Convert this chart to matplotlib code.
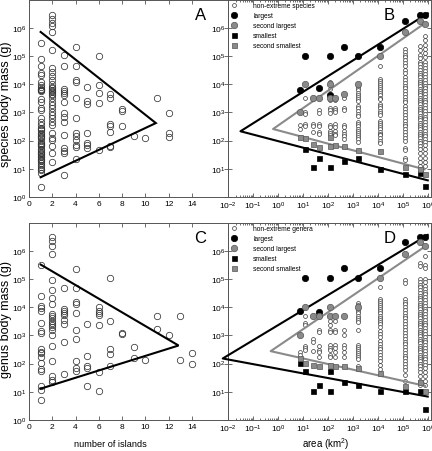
import numpy as np
import matplotlib
matplotlib.use('Agg')
import matplotlib.pyplot as plt
from matplotlib.ticker import LogLocator, NullLocator, FixedLocator, LogFormatterSciNotation, FuncFormatter

plt.rcParams['font.family'] = ['Liberation Sans', 'DejaVu Sans']
plt.rcParams['mathtext.fontset'] = 'custom'
plt.rcParams['mathtext.rm'] = 'Liberation Sans'
plt.rcParams['mathtext.it'] = 'Liberation Sans:italic'
plt.rcParams['mathtext.default'] = 'regular'

# ---------------- Panel A: species, log10 body mass by number of islands
A1 = [5.47, 4.90, 4.66, 4.38, 4.31, 4.09, 3.97, 3.90, 3.84, 3.81, 3.78, 3.74, 3.48, 3.38, 3.14, 3.10,
      2.79, 2.67, 2.55, 2.46, 2.40, 2.36, 2.27, 2.22, 2.17, 2.12, 2.08, 1.98, 1.93, 1.89, 1.84, 1.79,
      1.70, 1.65, 1.60, 1.55, 1.51, 1.46, 1.41, 1.36, 1.32, 1.26, 1.20, 1.14, 1.08, 1.01, 0.94, 0.84, 0.34]
A2 = [6.45, 6.32, 6.18, 6.05, 5.85, 5.21, 4.57, 4.42, 4.28, 4.14, 4.02, 3.90, 3.85, 3.81, 3.76, 3.71,
      3.66, 3.62, 3.50, 3.38, 3.26, 3.14, 3.02, 2.91, 2.79, 2.65, 2.55, 2.27, 2.10, 2.03, 1.79, 1.55, 1.25]
A3 = [5.05, 4.66, 3.83, 3.76, 3.69, 3.62, 3.38, 2.98, 2.84, 2.67, 2.19, 1.72, 1.63, 1.55, 0.77]
A4 = [5.33, 4.66, 4.14, 4.09, 3.50, 2.81, 2.27, 2.15, 2.03, 1.84, 1.77, 1.36]
A5 = [3.90, 3.40, 3.31, 2.27, 1.93, 1.84, 1.72]
A6 = [4.99, 3.97, 3.69, 3.33, 1.67]
A7 = [3.64, 3.50, 2.60, 2.50, 2.31, 1.81, 1.77]
A8 = [3.12, 3.05, 2.50]
A9 = [2.17]
A10 = [2.08]
A11 = [3.50]
A12 = [2.98, 2.27, 2.12]
A_cols = [A1, A2, A3, A4, A5, A6, A7, A8, A9, A10, A11, A12]
A_islands = [1, 2, 3, 4, 5, 6, 7, 8, 9, 10, 11, 12]
A_line_x = [1, 10.9, 1]
A_line_logy = [5.85, 2.62, 0.70]

# ---------------- Panel C: genera
C1 = [5.50, 4.38, 4.04, 3.97, 3.86, 3.43, 3.14, 3.07, 2.50, 2.41, 2.36, 2.22, 2.03, 1.79, 1.74, 1.22, 1.08, 0.70]
C2 = [6.48, 6.33, 6.18, 5.90, 4.97, 4.59, 4.33, 4.12, 3.76, 3.69, 3.62, 3.52, 3.45, 3.38, 3.31, 3.19,
      3.00, 2.62, 2.08, 1.55, 1.43, 1.34]
C3 = [4.69, 3.93, 3.86, 3.78, 3.71, 3.55, 3.40, 2.78, 1.62]
C4 = [5.36, 4.69, 4.19, 4.12, 3.81, 3.19, 2.86, 2.08, 1.84, 1.74]
C5 = [3.40, 2.27, 1.91, 1.84, 1.20]
C6 = [4.02, 3.88, 3.81, 3.71, 3.36, 1.69, 1.03]
C7 = [5.02, 3.52, 2.52, 2.33, 1.91]
C8 = [3.07, 3.06]
C9 = [2.60, 2.19]
C10 = [2.14]
C11 = [3.67, 3.21]
C12 = [3.02]
C13 = [3.67, 2.14]
C14 = [2.38, 1.98]
C_cols = [C1, C2, C3, C4, C5, C6, C7, C8, C9, C10, C11, C12, C13, C14]
C_islands = [1, 2, 3, 4, 5, 6, 7, 8, 9, 10, 11, 12, 13, 14]
C_line_x = [1, 12.85, 1]
C_line_logy = [5.51, 2.64, 1.11]

# ---------------- island areas (log10 km2)
isl = [0.88, 1.09, 1.40, 1.65, 2.09, 2.30, 2.64, 3.20, 4.07, 5.08, 5.67, 5.88]

# ---------------- Panel B: species by island area
B_ne1 = [2.55, 2.42]
B_ne2 = [3.50, 3.02, 2.95, 2.58, 2.50]
B_ne3 = [2.58, 2.50, 2.29]
B_ne4 = [3.50, 3.07, 2.98, 2.58, 2.50, 2.29, 2.22]
B_ne5 = [4.06, 3.82, 3.59, 3.52, 3.45, 3.16, 3.07, 2.98, 2.55, 2.48, 2.34, 2.27, 2.20]
B_ne6 = [3.52, 3.45, 3.16, 3.07, 3.00, 2.58, 2.48, 2.34, 2.25, 2.18]
B_ne7 = [3.52, 3.16, 3.07, 2.55, 2.48, 2.34, 2.25, 2.15, 2.06]
B_ne8 = [3.99, 3.92, 3.85, 3.78, 3.70, 3.62, 3.55, 3.48, 3.41, 3.24, 3.15, 3.05, 2.95, 2.88, 2.65,
         2.58, 2.50, 2.42, 2.35, 2.28, 2.20, 2.13, 2.06, 1.94]
B_ne9 = [4.65, 4.18, 4.12, 4.05, 3.98, 3.90, 3.82, 3.75, 3.68, 3.60, 3.52, 3.47, 3.30, 3.22, 3.15,
         3.05, 2.98, 2.90, 2.70, 2.62, 2.55, 2.48, 2.40, 2.32, 2.25, 2.18, 2.10, 2.00, 1.92]
B_ne10 = [5.24, 5.15, 5.05, 4.95, 4.85, 4.75, 4.65, 4.50, 4.40, 4.25, 4.15, 4.05, 3.95, 3.85, 3.75,
          3.65, 3.55, 3.45, 3.35, 3.22, 3.12, 3.02, 2.92, 2.80, 2.70, 2.60, 2.50, 2.40, 2.30, 2.20,
          2.10, 2.00, 1.75, 1.65, 1.40, 1.30]
B_ne11 = [5.35, 5.20, 5.05, 4.92, 4.80, 4.70, 4.60, 4.50, 4.40, 4.32, 4.24, 4.16, 4.08, 4.00, 3.92,
          3.84, 3.76, 3.68, 3.60, 3.52, 3.44, 3.36, 3.28, 3.20, 3.12, 3.04, 2.96, 2.88, 2.80, 2.72,
          2.64, 2.56, 2.48, 2.40, 2.32, 2.24, 2.16, 2.08, 2.00, 1.90, 1.80, 1.70, 1.55, 1.40, 1.25, 1.10]
B_ne12 = [5.70, 5.55, 5.40, 5.25, 5.10, 4.95, 4.80, 4.68, 4.56, 4.45, 4.35, 4.25, 4.15, 4.05, 3.95,
          3.85, 3.75, 3.65, 3.55, 3.45, 3.35, 3.25, 3.15, 3.05, 2.95, 2.85, 2.75, 2.65, 2.55, 2.45,
          2.35, 2.25, 2.15, 2.05, 1.95, 1.85, 1.70, 1.55, 1.40, 1.25, 1.10]
B_ne = [B_ne1, B_ne2, B_ne3, B_ne4, B_ne5, B_ne6, B_ne7, B_ne8, B_ne9, B_ne10, B_ne11, B_ne12]

B_large_x = [0.88, 1.09, 1.65, 2.09, 2.09, 2.64, 3.20, 4.07, 5.08, 5.67, 5.88]
B_large_y = [3.80, 4.98, 3.85, 4.98, 3.62, 5.33, 4.98, 5.33, 6.24, 6.44, 6.46]
B_slarge_x = [0.88, 1.09, 1.40, 1.65, 2.09, 2.09, 2.30, 2.64, 3.20, 4.07, 5.08, 5.67, 5.88]
B_slarge_y = [3.00, 4.00, 3.51, 3.51, 4.00, 3.51, 3.51, 3.66, 4.00, 4.98, 5.85, 6.24, 6.12]
B_small_x = [1.09, 1.40, 1.65, 2.09, 2.64, 3.20, 4.07, 5.08, 5.67, 5.88]
B_small_y = [1.69, 1.08, 1.40, 1.08, 1.28, 1.40, 1.01, 0.82, 0.84, 0.38]
B_ssmall_x = [0.88, 1.09, 1.40, 1.65, 2.09, 2.09, 2.30, 2.64, 3.20, 4.07, 5.08, 5.67, 5.88]
B_ssmall_y = [2.12, 2.08, 1.88, 1.76, 2.12, 1.82, 1.85, 1.82, 1.68, 1.62, 1.06, 0.98, 0.82]
B_black_x = [6.0, -1.50, 6.0]
B_black_y = [6.51, 2.33, 0.59]
B_grey_x = [5.87, -0.195, 5.87]
B_grey_y = [6.15, 2.41, 0.98]

# ---------------- Panel D: genera by island area
D_ne1 = [2.40, 2.30]
D_ne2 = [3.69, 3.43, 3.36, 2.63, 2.56, 2.49]
D_ne3 = [3.69, 2.86, 2.75, 2.45]
D_ne4 = [3.69, 3.20, 3.12, 2.63, 2.49, 2.42, 2.25]
D_ne5 = [3.69, 3.52, 3.38, 3.20, 3.12, 2.67, 2.56, 2.49, 2.32, 2.25]
D_ne6 = [3.69, 3.52, 3.20, 3.12, 2.67, 2.56, 2.42, 2.25]
D_ne7 = [3.20, 3.02, 2.67, 2.56, 2.40, 2.25]
D_ne8 = [4.15, 4.08, 4.00, 3.92, 3.85, 3.78, 3.70, 3.62, 3.55, 3.48, 3.20, 2.67, 2.60, 2.52, 2.45,
         2.38, 2.30, 2.22, 2.15, 1.92]
D_ne9 = [4.70, 4.30, 4.22, 4.15, 4.08, 4.00, 3.92, 3.85, 3.78, 3.70, 3.62, 3.55, 3.48, 3.40, 3.30,
         3.15, 3.05, 2.95, 2.80, 2.70, 2.60, 2.50, 2.40, 2.30, 2.20, 2.10, 1.95, 1.80]
D_ne10 = [4.97, 4.85, 4.30, 4.20, 4.10, 4.00, 3.90, 3.80, 3.70, 3.60, 3.50, 3.40, 3.30, 3.18, 3.08,
          2.98, 2.88, 2.78, 2.68, 2.58, 2.48, 2.38, 2.28, 2.18, 2.08, 1.98, 1.88, 1.78, 1.60, 1.40]
D_ne11 = [5.55, 5.45, 5.00, 4.90, 4.80, 4.70, 4.60, 4.50, 4.40, 4.32, 4.24, 4.16, 4.08, 4.00, 3.92,
          3.84, 3.76, 3.68, 3.60, 3.52, 3.44, 3.36, 3.28, 3.20, 3.12, 3.04, 2.96, 2.88, 2.80, 2.72,
          2.64, 2.56, 2.48, 2.40, 2.32, 2.24, 2.16, 2.08, 2.00, 1.90, 1.80, 1.70, 1.55, 1.40, 1.25]
D_ne12 = [5.80, 5.50, 5.40, 5.00, 4.88, 4.76, 4.65, 4.55, 4.45, 4.35, 4.25, 4.15, 4.05, 3.95, 3.85,
          3.75, 3.65, 3.55, 3.45, 3.35, 3.25, 3.15, 3.05, 2.95, 2.85, 2.75, 2.65, 2.55, 2.45, 2.35,
          2.25, 2.15, 2.05, 1.95, 1.85, 1.70, 1.55, 1.40, 1.25]
D_ne = [D_ne1, D_ne2, D_ne3, D_ne4, D_ne5, D_ne6, D_ne7, D_ne8, D_ne9, D_ne10, D_ne11, D_ne12]

D_large_x = [0.88, 1.09, 1.65, 2.09, 2.64, 3.20, 4.07, 5.08, 5.67, 5.88]
D_large_y = [3.88, 5.02, 3.83, 5.02, 5.37, 5.02, 5.37, 6.30, 6.47, 6.50]
D_slarge_x = [0.88, 1.09, 1.40, 1.65, 2.09, 2.09, 2.30, 2.64, 3.20, 4.07, 5.08, 5.67, 5.88]
D_slarge_y = [3.03, 4.02, 3.69, 3.69, 4.02, 3.69, 3.69, 3.69, 4.02, 5.02, 5.88, 6.30, 6.15]
D_small_x = [0.88, 1.09, 1.40, 1.65, 2.09, 2.09, 2.64, 3.20, 4.07, 5.08, 5.67, 5.88]
D_small_y = [2.01, 1.72, 1.04, 1.23, 1.04, 1.72, 1.33, 1.23, 1.04, 1.04, 1.04, 0.40]
D_ssmall_x = [0.88, 1.09, 1.40, 1.65, 2.09, 2.30, 2.64, 3.20, 4.07, 5.08, 5.67, 5.88]
D_ssmall_y = [2.18, 2.01, 1.94, 1.92, 1.94, 1.92, 1.92, 1.85, 1.68, 1.21, 1.33, 1.04]
D_black_x = [6.0, -2.21, 6.0]
D_black_y = [6.56, 2.18, 0.83]
D_grey_x = [5.89, -0.29, 5.89]
D_grey_y = [6.15, 2.44, 1.21]

# ---------------- figure
W, H = 432, 452
fig = plt.figure(figsize=(W / 100, H / 100), dpi=100)
axA = fig.add_axes([29 / W, 1 - 198 / H, 199 / W, 197.5 / H])
axB = fig.add_axes([228 / W, 1 - 198 / H, 203 / W, 197.5 / H])
axC = fig.add_axes([29 / W, 1 - 421 / H, 199 / W, 197.5 / H])
axD = fig.add_axes([228 / W, 1 - 421 / H, 203 / W, 197.5 / H])

spine_col = '#555555'
grey = '#8a8a8a'
sci = LogFormatterSciNotation()


def no_unit_label(v, pos):
    # the right-hand panels leave the 10^0 label out
    if abs(v - 1.0) < 1e-9:
        return ''
    return sci(v, pos)


def style(ax, logx):
    ax.set_yscale('log')
    ax.set_ylim(1, 1e7)
    ax.yaxis.set_major_locator(FixedLocator([10.0 ** k for k in range(0, 7)]))
    ax.yaxis.set_minor_locator(NullLocator())
    if logx:
        ax.yaxis.set_major_formatter(FuncFormatter(no_unit_label))
        ax.set_xscale('log')
        ax.set_xlim(1e-2, 10 ** 6.13)
        ax.xaxis.set_major_locator(FixedLocator([10.0 ** k for k in range(-2, 7)]))
        ax.xaxis.set_minor_locator(LogLocator(base=10, subs=np.arange(2, 10), numticks=20))
        ax.xaxis.set_major_formatter(LogFormatterSciNotation())
    else:
        ax.yaxis.set_major_formatter(LogFormatterSciNotation())
        ax.set_xlim(0, 17.1)
        ax.set_xticks([0, 2, 4, 6, 8, 10, 12, 14])
    ax.tick_params(which='both', direction='in', top=True, right=True,
                   labelsize=6, pad=2, width=0.6, color=spine_col)
    ax.tick_params(which='major', length=3)
    ax.tick_params(which='minor', length=1.5)
    for s in ax.spines.values():
        s.set_linewidth(0.7)
        s.set_color(spine_col)
    ax.set_facecolor('none')


def island_panel(ax, islands, cols, lx, ly):
    for xv, col in zip(islands, cols):
        ax.plot([xv] * len(col), 10.0 ** np.array(col), 'o', ms=4.6, mfc='none',
                mec='#333333', mew=0.55, zorder=3)
    ax.plot(lx, 10.0 ** np.array(ly), '-', color='black', lw=1.5, zorder=4,
            solid_joinstyle='miter')


def area_panel(ax, ne, lx, ly, slx, sly, smx, smy, ssx, ssy, bx, by, gx, gy, nelabel):
    first = True
    for xv, col in zip(isl, ne):
        ax.plot([10.0 ** xv] * len(col), 10.0 ** np.array(col), 'o', ms=2.8, mfc='white',
                mec='#222222', mew=0.45, zorder=3, label=nelabel if first else None)
        first = False
    ax.plot(10.0 ** np.array(bx), 10.0 ** np.array(by), '-', color='black', lw=1.5,
            zorder=4, clip_on=False)
    ax.plot(10.0 ** np.array(gx), 10.0 ** np.array(gy), '-', color=grey, lw=1.5,
            zorder=4, clip_on=False)
    ax.plot(10.0 ** np.array(lx), 10.0 ** np.array(ly), 'o', ms=4.6, mfc='black',
            mec='black', mew=0.5, zorder=5, label='largest')
    ax.plot(10.0 ** np.array(slx), 10.0 ** np.array(sly), 'o', ms=4.6, mfc=grey,
            mec='#555555', mew=0.5, zorder=5, label='second largest')
    ax.plot(10.0 ** np.array(smx), 10.0 ** np.array(smy), 's', ms=3.6, mfc='black',
            mec='black', mew=0.5, zorder=5, label='smallest')
    ax.plot(10.0 ** np.array(ssx), 10.0 ** np.array(ssy), 's', ms=3.6, mfc=grey,
            mec='#555555', mew=0.5, zorder=5, label='second smallest')
    ax.legend(loc='upper left', bbox_to_anchor=(0.0, 1.0), frameon=False, fontsize=4.8,
              handlelength=1.0, handletextpad=2.4, borderpad=0.35, borderaxespad=0.0,
              labelspacing=0.45, markerscale=1.0)


island_panel(axA, A_islands, A_cols, A_line_x, A_line_logy)
island_panel(axC, C_islands, C_cols, C_line_x, C_line_logy)
area_panel(axB, B_ne, B_large_x, B_large_y, B_slarge_x, B_slarge_y, B_small_x, B_small_y,
           B_ssmall_x, B_ssmall_y, B_black_x, B_black_y, B_grey_x, B_grey_y, 'non-extreme species')
area_panel(axD, D_ne, D_large_x, D_large_y, D_slarge_x, D_slarge_y, D_small_x, D_small_y,
           D_ssmall_x, D_ssmall_y, D_black_x, D_black_y, D_grey_x, D_grey_y, 'non-extreme genera')

for ax, logx in [(axA, False), (axB, True), (axC, False), (axD, True)]:
    style(ax, logx)

for ax, letter in [(axA, 'A'), (axB, 'B'), (axC, 'C'), (axD, 'D')]:
    ax.text(0.86 if ax in (axA, axC) else 0.795, 0.925, letter, transform=ax.transAxes,
            fontsize=12, ha='center', va='center')

fig.text(6.5 / W, 1 - 104 / H, 'species body mass (g)', rotation=90, ha='center', va='center', fontsize=9)
fig.text(6.5 / W, 1 - 320 / H, 'genus body mass (g)', rotation=90, ha='center', va='center', fontsize=9)
fig.text(110 / W, 1 - 445 / H, 'number of islands', ha='center', va='center', fontsize=6.6)
fig.text(326 / W, 1 - 444 / H, 'area (km$^{2}$)', ha='center', va='center', fontsize=7)

fig.savefig('out.png', dpi=100)
